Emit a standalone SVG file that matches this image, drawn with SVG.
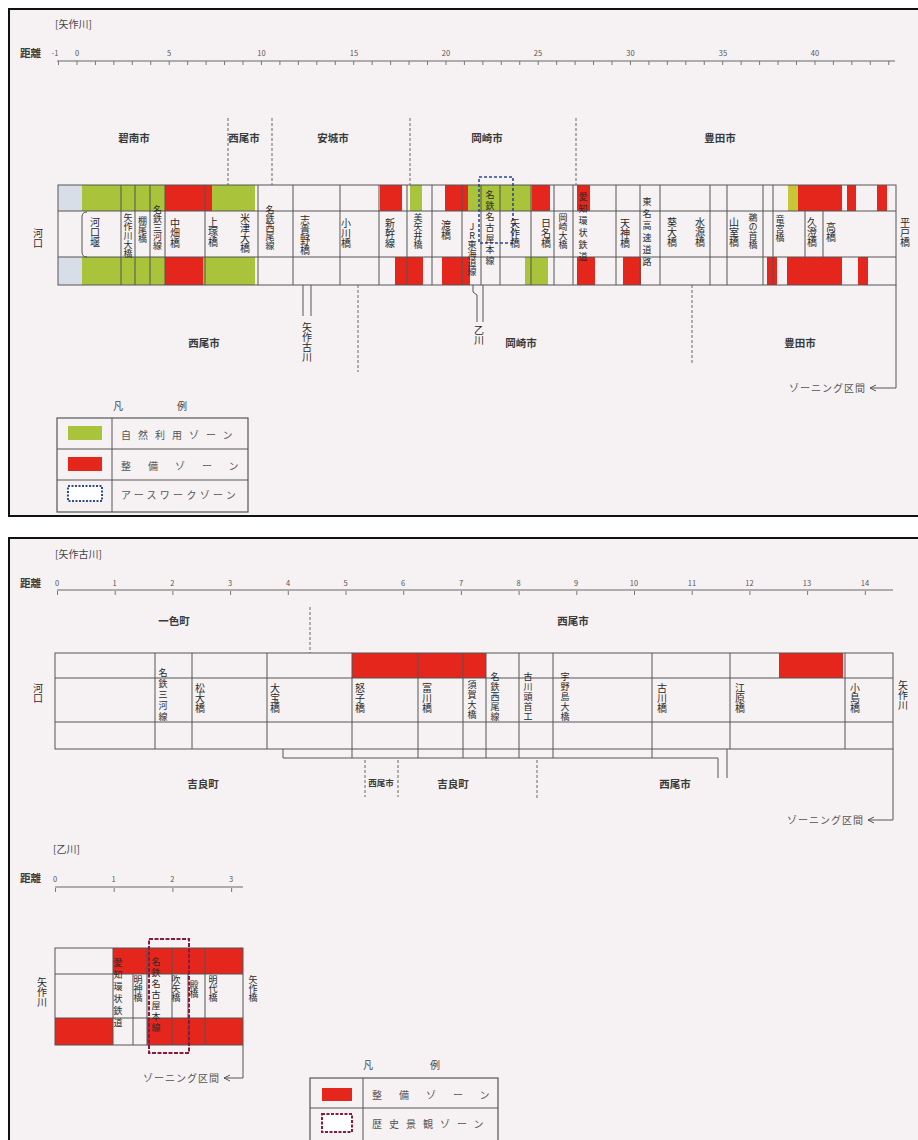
<svg xmlns="http://www.w3.org/2000/svg" width="918" height="1140" viewBox="0 0 918 1140">
<style>
text{font-family:"Noto Sans CJK JP","Noto Sans CJK SC",sans-serif;fill:#333}
.t{font-size:10.5px;font-weight:bold;fill:#3a3a3a}
.ttl{font-size:10px;fill:#444}
.v{font-size:10px;writing-mode:vertical-rl;text-orientation:upright;fill:#2a2a2a}
.vs{font-size:9px;writing-mode:vertical-rl;text-orientation:upright;fill:#2a2a2a}
.num{font-size:7.5px;fill:#555;text-anchor:middle}
.c{text-anchor:middle}
.g{fill:#a9c33b}
.y{fill:#c8c636}
.r{fill:#e5261d}
.lb{fill:#d8dee7}
.ln{stroke:#555;stroke-width:1;fill:none}
.gr{stroke:#555;stroke-width:1}
.dash{stroke:#666;stroke-width:1;stroke-dasharray:3 2;fill:none}
.rul{stroke:#666;stroke-width:1.2}
.tick{stroke:#777;stroke-width:4}
.leg{font-size:10px;fill:#555}
.zn{font-size:10px;fill:#555;text-anchor:end}
</style>
<defs>
<marker id="arr" markerWidth="8" markerHeight="8" refX="7" refY="4" orient="auto" markerUnits="userSpaceOnUse">
<path d="M1,1 L7,4 L1,7" fill="none" stroke="#555" stroke-width="1"/>
</marker>
</defs>
<rect width="918" height="1140" fill="#ffffff"/>
<rect id="panel1" x="9" y="9" width="914" height="507" fill="#f6f2f4" stroke="#111" stroke-width="2"/>
<rect id="panel2" x="9" y="538" width="914" height="610" fill="#f6f2f4" stroke="#111" stroke-width="2"/>

<g id="ruler1">
<text x="55" y="28" class="ttl">[矢作川]</text>
<text x="20" y="57" class="t">距離</text>
<line x1="57" y1="61" x2="895" y2="61" class="rul"/>
<line x1="58" y1="63" x2="895" y2="63" class="tick" stroke-dasharray="1 17.45"/>
<text x="55" y="56" class="num">-1</text><text x="77" y="56" class="num">0</text><text x="169" y="56" class="num">5</text><text x="261.5" y="56" class="num">10</text><text x="354" y="56" class="num">15</text><text x="446" y="56" class="num">20</text><text x="538" y="56" class="num">25</text><text x="630.5" y="56" class="num">30</text><text x="723" y="56" class="num">35</text><text x="815" y="56" class="num">40</text>
</g>

<g id="cities1">
<text x="134" y="142" class="t c">碧南市</text>
<text x="244" y="142" class="t c">西尾市</text>
<text x="333" y="142" class="t c">安城市</text>
<text x="487" y="142" class="t c">岡崎市</text>
<text x="720" y="142" class="t c">豊田市</text>
<text x="204" y="347" class="t c">西尾市</text>
<text x="521" y="347" class="t c">岡崎市</text>
<text x="800" y="347" class="t c">豊田市</text>
<path class="dash" d="M228,118V185M272,118V185M410,118V185M576,118V185M358,285V372M692,285V363"/>
</g>

<g id="band1">
<g id="band1-fills">
<rect class="lb" x="58" y="185" width="24" height="26"/>
<rect class="g" x="82" y="185" width="83" height="26"/>
<rect class="r" x="165" y="185" width="47" height="26"/>
<rect class="g" x="212" y="185" width="43" height="26"/>
<rect class="r" x="380" y="185" width="22" height="26"/>
<rect class="g" x="410" y="185" width="12" height="26"/>
<rect class="r" x="445" y="185" width="23" height="26"/>
<rect class="g" x="468" y="185" width="64" height="26"/>
<rect class="r" x="532" y="185" width="18" height="26"/>
<rect class="r" x="577" y="185" width="13" height="26"/>
<rect class="y" x="788" y="185" width="10" height="26"/>
<rect class="r" x="798" y="185" width="44" height="26"/>
<rect class="r" x="847" y="185" width="9" height="26"/>
<rect class="r" x="877" y="185" width="10" height="26"/>
<rect class="lb" x="58" y="257" width="24" height="28"/>
<rect class="g" x="82" y="257" width="83" height="28"/>
<rect class="r" x="165" y="257" width="38" height="28"/>
<rect class="g" x="203" y="257" width="52" height="28"/>
<rect class="r" x="395" y="257" width="28" height="28"/>
<rect class="r" x="442" y="257" width="28" height="28"/>
<rect class="g" x="525" y="257" width="23" height="28"/>
<rect class="r" x="577" y="257" width="18" height="28"/>
<rect class="r" x="623" y="257" width="18" height="28"/>
<rect class="r" x="767" y="257" width="10" height="28"/>
<rect class="r" x="787" y="257" width="55" height="28"/>
<rect class="r" x="858" y="257" width="10" height="28"/>
</g>
<g id="band1-grid" class="gr">
<rect x="58" y="185" width="838" height="100" fill="none" stroke="#555"/>
<path class="ln" d="M58,211H896M58,257H896"/>
<path class="ln" d="M121,185V285M135,185V285M150,185V285M165,185V285M205,185V285M258,185V285M293,185V285M340,185V285M379,185V285M407,185V285M432,185V285M462,185V285M481,185V285M500,185V285M531,185V285M554,185V285M573,185V285M616,185V285M640,185V285M660,185V285M710,185V285M727,185V285M763,185V285M773,185V285M805,211V257M823,211V257"/>
<path class="ln" d="M87,212Q82,212 82,217V252Q82,257 87,257"/>
</g>
<rect id="earthwork" x="479" y="177" width="34" height="66" fill="none" stroke="#2f4a8e" stroke-width="1.6" stroke-dasharray="3 2"/>
<g id="band1-labels">
<text x="38" y="228" class="v">河口</text>
<text x="95" y="217" class="v">河口堰</text>
<text x="128" y="213" class="vs">矢作川大橋</text>
<text x="142.5" y="216" class="vs">棚尾橋</text>
<text x="157.5" y="205" class="vs">名鉄三河線</text>
<text x="175" y="218" class="v">中畑橋</text>
<text x="213" y="217" class="v">上塚橋</text>
<text x="245" y="213" class="v">米津大橋</text>
<text x="270" y="205" class="vs">名鉄西尾線</text>
<text x="305" y="215" class="v">志貴野橋</text>
<text x="346" y="218" class="v">小川橋</text>
<text x="390" y="218" class="v">新幹線</text>
<text x="418" y="213" class="vs">美矢井橋</text>
<text x="446" y="220" class="v">渡橋</text>
<text x="472" y="222" class="vs">JR東海道線</text>
<text x="490" y="190" class="vs" letter-spacing="2">名鉄名古屋本線</text>
<text x="515" y="218" class="v">矢作橋</text>
<text x="546" y="218" class="v">日名橋</text>
<text x="563" y="213" class="vs">岡崎大橋</text>
<text x="583" y="192" class="vs" letter-spacing="3">愛知環状鉄道</text>
<text x="625" y="218" class="v">天神橋</text>
<text x="647" y="197" class="vs" letter-spacing="3">東名高速道路</text>
<text x="672" y="217" class="v">葵大橋</text>
<text x="700" y="217" class="v">水源橋</text>
<text x="734" y="217" class="v">山室橋</text>
<text x="753" y="213" class="vs">鵜の首橋</text>
<text x="780" y="215" class="vs">竜宮橋</text>
<text x="812" y="217" class="v">久澄橋</text>
<text x="831" y="222" class="v">高橋</text>
<text x="905" y="217" class="v">平戸橋</text>
</g>
</g>

<g id="connectors1">
<path class="ln" d="M303,285V316M311,285V316"/>
<text x="307" y="322" class="v">矢作古川</text>
<path class="ln" d="M473,285V292L477,295V322M483,285V322"/>
<text x="479" y="325" class="v">乙川</text>
<path class="ln" d="M896,285V388H870" marker-end="url(#arr)"/>
<text x="866" y="392" class="zn" style="letter-spacing:1px">ゾーニング区間</text>
</g>

<g id="legend1">
<text x="118" y="410" class="ttl c">凡</text>
<text x="182" y="410" class="ttl c">例</text>
<rect x="57" y="418" width="191" height="94" fill="none" stroke="#555" stroke-width="1.2"/>
<path class="ln" d="M57,449H248M57,480H248M112,418V512"/>
<rect class="g" x="68" y="426" width="34" height="14"/>
<rect class="r" x="68" y="457" width="34" height="14"/>
<rect x="68" y="486" width="34" height="15" fill="#fff" stroke="#2f4a8e" stroke-width="2" stroke-dasharray="2 1.5"/>
<text x="121" y="439" class="leg" style="letter-spacing:7px">自然利用ゾーン</text>
<text x="121" y="470" class="leg" style="letter-spacing:17px">整備ゾーン</text>
<text x="121" y="499" class="leg" style="letter-spacing:3.3px">アースワークゾーン</text>
</g>

<g id="ruler2">
<text x="55" y="558" class="ttl">[矢作古川]</text>
<text x="20" y="587" class="t">距離</text>
<line x1="57" y1="590" x2="893" y2="590" class="rul"/>
<line x1="57" y1="593" x2="893" y2="593" class="tick" stroke-dasharray="1 56.7"/>
<text x="57" y="586" class="num">0</text><text x="114.7" y="586" class="num">1</text><text x="172.4" y="586" class="num">2</text><text x="230" y="586" class="num">3</text><text x="288" y="586" class="num">4</text><text x="345.5" y="586" class="num">5</text><text x="403" y="586" class="num">6</text><text x="461" y="586" class="num">7</text><text x="518.6" y="586" class="num">8</text><text x="576" y="586" class="num">9</text><text x="634" y="586" class="num">10</text><text x="692" y="586" class="num">11</text><text x="749.4" y="586" class="num">12</text><text x="807" y="586" class="num">13</text><text x="865" y="586" class="num">14</text>
</g>

<g id="cities2">
<text x="174" y="625" class="t c">一色町</text>
<text x="573" y="625" class="t c">西尾市</text>
<path class="dash" d="M310,607V653"/>
<text x="203" y="788" class="t c">吉良町</text>
<text x="381" y="786" class="t c" style="font-size:8.5px">西尾市</text>
<text x="453" y="788" class="t c">吉良町</text>
<text x="675" y="788" class="t c">西尾市</text>
<path class="dash" d="M365,760V797M398,760V797M537,760V800"/>
</g>

<g id="band2">
<rect class="r" x="352" y="653" width="134" height="25"/>
<rect class="r" x="779" y="653" width="64" height="25"/>
<rect x="55" y="653" width="838" height="96" fill="none" stroke="#555"/>
<path class="ln" d="M55,678H893M55,722H893M155,653V749M192,653V749M267,653V749M352,653V758M418,653V758M463,653V758M486,653V758M519,653V758M553,653V758M652,653V758M730,653V749M845,653V749"/>
<path class="ln" d="M283,749V758H718V778M727,749V778"/>
<text x="38" y="683" class="v">河口</text>
<text x="163" y="668" class="vs" letter-spacing="2">名鉄三河線</text>
<text x="200" y="683" class="v">松大橋</text>
<text x="275" y="683" class="v">大宝橋</text>
<text x="360" y="683" class="v">怒子橋</text>
<text x="427" y="683" class="v">富川橋</text>
<text x="472" y="680" class="vs" letter-spacing="1">須賀大橋</text>
<text x="495" y="672" class="vs" letter-spacing="1">名鉄西尾線</text>
<text x="528" y="672" class="vs" letter-spacing="1">古川頭首工</text>
<text x="565" y="672" class="vs" letter-spacing="1">宇野島大橋</text>
<text x="662" y="683" class="v">古川橋</text>
<text x="740" y="683" class="v">江原橋</text>
<text x="855" y="683" class="v">小島橋</text>
<text x="903" y="680" class="v">矢作川</text>
</g>

<g id="connectors2">
<path class="ln" d="M893,749V820H868" marker-end="url(#arr)"/>
<text x="864" y="824" class="zn" style="letter-spacing:1px">ゾーニング区間</text>
</g>

<g id="ruler3">
<text x="53" y="853" class="ttl">[乙川]</text>
<text x="20" y="882" class="t">距離</text>
<line x1="55" y1="887" x2="243" y2="887" class="rul"/>
<line x1="55" y1="890" x2="243" y2="890" class="tick" stroke-dasharray="1 57.7"/>
<text x="55" y="882" class="num">0</text><text x="113.7" y="882" class="num">1</text><text x="172.4" y="882" class="num">2</text><text x="231" y="882" class="num">3</text>
</g>

<g id="band3">
<rect class="r" x="113" y="948" width="130" height="26"/>
<rect class="r" x="55" y="1018" width="58" height="27"/>
<rect class="r" x="147" y="1018" width="96" height="27"/>
<rect x="55" y="948" width="188" height="97" fill="none" stroke="#555"/>
<path class="ln" d="M55,974H243M55,1018H243M113,948V1045M133,974V1045M147,948V1045M172,948V1045M188,974V1045M205,948V1045"/>
<rect id="historic" x="149" y="939" width="40" height="114" fill="none" stroke="#8a1a3c" stroke-width="2" stroke-dasharray="4 1.5"/>
<text x="42" y="977" class="v">矢作川</text>
<text x="118" y="958" class="vs" letter-spacing="3">愛知環状鉄道</text>
<text x="138" y="975" class="vs">明神橋</text>
<text x="156" y="957" class="vs" letter-spacing="2">名鉄名古屋本線</text>
<text x="176" y="975" class="vs">吹矢橋</text>
<text x="194" y="980" class="vs">殿橋</text>
<text x="213" y="975" class="vs">明代橋</text>
<text x="253" y="975" class="vs">矢作橋</text>
</g>

<g id="connectors3">
<path class="ln" d="M243,1045V1078H224" marker-end="url(#arr)"/>
<text x="220" y="1082" class="zn" style="letter-spacing:1px">ゾーニング区間</text>
</g>

<g id="legend2">
<text x="368" y="1069" class="ttl c">凡</text>
<text x="435" y="1069" class="ttl c">例</text>
<rect x="310" y="1078" width="188" height="70" fill="none" stroke="#555" stroke-width="1.2"/>
<path class="ln" d="M310,1108H498M363,1078V1148"/>
<rect class="r" x="322" y="1088" width="30" height="13"/>
<rect x="322" y="1114" width="30" height="18" fill="#fff" stroke="#8a1a3c" stroke-width="2" stroke-dasharray="3 1.5"/>
<text x="372" y="1099" class="leg" style="letter-spacing:17px">整備ゾーン</text>
<text x="372" y="1128" class="leg" style="letter-spacing:7px">歴史景観ゾーン</text>
</g>
</svg>
